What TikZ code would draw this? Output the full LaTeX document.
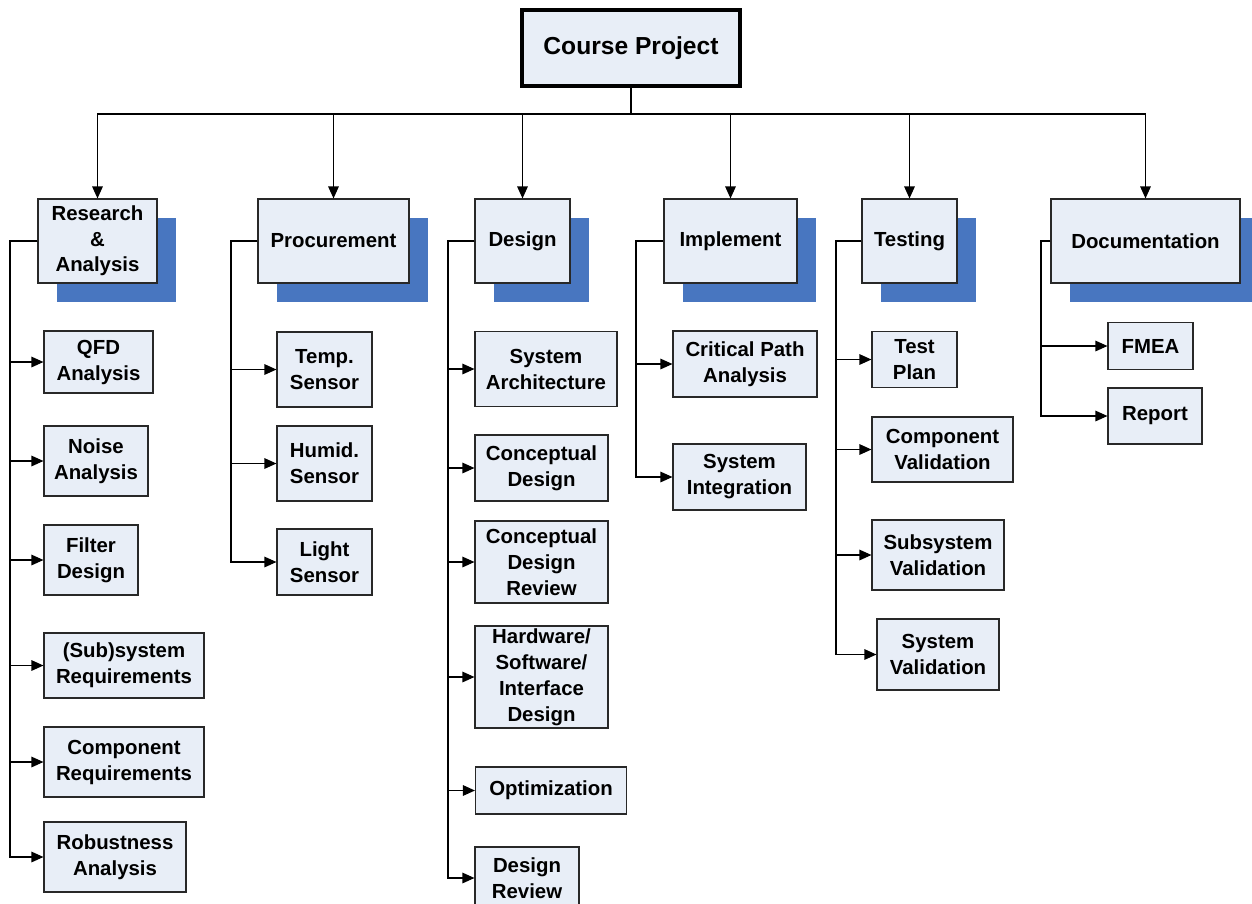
\documentclass[tikz,border=0pt]{standalone}
\usepackage{fontspec}
\setmainfont{Liberation Sans}
\usepackage{tikz}
\usetikzlibrary{arrows.meta, shadows, positioning}
\definecolor{boxfill}{RGB}{232,238,247}
\definecolor{shadowblue}{RGB}{72,118,192}
\definecolor{edge1}{RGB}{40,40,40}

\begin{document}
\begin{tikzpicture}[x=0.025cm, y=-0.025cm,
    root/.style={draw=black, fill=boxfill, line width=2.2pt, inner sep=0pt, align=center,
        font=\bfseries\fontsize{17.5}{21}\selectfont},
    phase/.style={draw=edge1, fill=boxfill, line width=0.8pt, inner sep=0pt, align=center,
        minimum height=2.1cm, font=\bfseries\fontsize{14.5}{18}\selectfont,
        drop shadow={shadow xshift=0.475cm, shadow yshift=-0.475cm, fill=shadowblue, opacity=1}},
    task/.style={draw=edge1, fill=boxfill, line width=0.8pt, inner sep=0pt, align=center,
        font=\bfseries\fontsize{14.5}{18.5}\selectfont},
    wire/.style={line width=0.8pt, draw=black},
    arr/.style={wire, -{Triangle[length=8.5pt, width=7.5pt]}}
]
    \useasboundingbox (0,0) rectangle (1252,903);

    % top
    \node[root, name=root, minimum width=5.45cm, minimum height=1.9cm] at(631,48) {Course Project};
    \coordinate (bus) at (631,114);

    % phases
    \node[phase, name=ra, minimum width=2.975cm] at(97.5,241) {Research\\\&\\Analysis};
    \node[phase, name=proc, minimum width=3.775cm] at(333.5,241) {Procurement};
    \node[phase, name=des, minimum width=2.375cm] at(522.5,241) {Design};
    \node[phase, name=imp, minimum width=3.325cm] at(730.5,241) {Implement};
    \node[phase, name=test, minimum width=2.375cm] at(909.5,241) {Testing};
    \node[phase, name=doc, minimum width=4.725cm] at(1145.5,241) {Documentation};

    % research & analysis
    \node[task, name=qfd, minimum width=2.725cm, minimum height=1.55cm] at(98.5,362) {QFD\\Analysis};
    \node[task, name=noise, minimum width=2.6cm, minimum height=1.75cm] at(96,461) {Noise\\Analysis};
    \node[task, name=filter, minimum width=2.35cm, minimum height=1.75cm] at(91,560) {Filter\\Design};
    \node[task, name=subreq, minimum width=4cm, minimum height=1.625cm] at(124,665.5) {(Sub)system\\Requirements};
    \node[task, name=compreq, minimum width=4cm, minimum height=1.75cm] at(124,762) {Component\\Requirements};
    \node[task, name=robust, minimum width=3.55cm, minimum height=1.75cm] at(115,857) {Robustness\\Analysis};

    % procurement
    \node[task, name=temp, minimum width=2.375cm, minimum height=1.875cm] at(324.5,369.5) {Temp.\\Sensor};
    \node[task, name=humid, minimum width=2.375cm, minimum height=1.875cm] at(324.5,463.5) {Humid.\\Sensor};
    \node[task, name=light, minimum width=2.375cm, minimum height=1.65cm] at(324.5,562) {Light\\Sensor};

    % design
    \node[task, name=sysarch, minimum width=3.55cm, minimum height=1.875cm] at(546,369) {System\\Architecture};
    \node[task, name=concept, minimum width=3.325cm, minimum height=1.65cm] at(541.5,468) {Conceptual\\Design};
    \node[task, name=cdr, minimum width=3.325cm, minimum height=2.05cm] at(541.5,562) {Conceptual\\Design\\Review};
    \node[task, name=hwsw, minimum width=3.325cm, minimum height=2.55cm] at(541.5,677) {Hardware/\\Software/\\Interface\\Design};
    \node[task, name=optim, minimum width=3.775cm, minimum height=1.175cm] at(551,790.5) {Optimization};
    \node[task, name=desrev, minimum width=2.6cm, minimum height=1.55cm] at(527,878) {Design\\Review};

    % implement
    \node[task, name=crit, minimum width=3.6cm, minimum height=1.65cm] at(745,364) {Critical Path\\Analysis};
    \node[task, name=sysint, minimum width=3.325cm, minimum height=1.65cm] at(739.5,477) {System\\Integration};

    % testing
    \node[task, name=tplan, minimum width=2.125cm, minimum height=1.4cm] at(914.5,359.5) {Test\\Plan};
    \node[task, name=compval, minimum width=3.525cm, minimum height=1.625cm] at(942.5,449.5) {Component\\Validation};
    \node[task, name=subval, minimum width=3.3cm, minimum height=1.75cm] at(938,555) {Subsystem\\Validation};
    \node[task, name=sysval, minimum width=3.05cm, minimum height=1.775cm] at(938,654.5) {System\\Validation};

    % documentation
    \node[task, name=fmea, minimum width=2.125cm, minimum height=1.175cm] at(1150.5,346) {FMEA};
    \node[task, name=report, minimum width=2.35cm, minimum height=1.4cm] at(1155,416) {Report};

    % trunks
    \coordinate (raT) at (10,241);
    \coordinate (procT) at (231,241);
    \coordinate (desT) at (448,241);
    \coordinate (impT) at (636,241);
    \coordinate (testT) at (836,241);
    \coordinate (docT) at (1041,241);

    \foreach \p in {ra,proc,des,imp,test,doc}
        \draw[arr] (root.south) -- (bus) -| (\p.north);

    \foreach \c in {qfd,noise,filter,subreq,compreq,robust}
        \draw[arr] (ra.west) -- (raT) |- (\c.west);
    \foreach \c in {temp,humid,light}
        \draw[arr] (proc.west) -- (procT) |- (\c.west);
    \foreach \c in {sysarch,concept,cdr,hwsw,optim,desrev}
        \draw[arr] (des.west) -- (desT) |- (\c.west);
    \foreach \c in {crit,sysint}
        \draw[arr] (imp.west) -- (impT) |- (\c.west);
    \foreach \c in {tplan,compval,subval,sysval}
        \draw[arr] (test.west) -- (testT) |- (\c.west);
    \foreach \c in {fmea,report}
        \draw[arr] (doc.west) -- (docT) |- (\c.west);

\end{tikzpicture}
\end{document}
